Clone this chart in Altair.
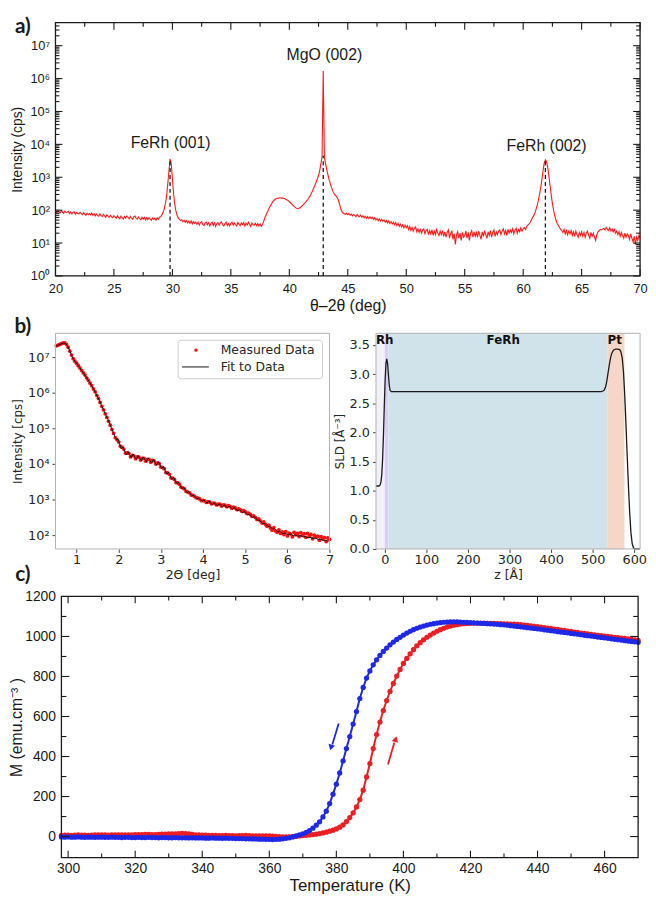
import altair as alt
import pandas as pd

FA = "Liberation Sans"
FB = "DejaVu Sans"
FL = "Lato"
INK = "#1a1a1a"
LBL = "#262626"
SUP = "['⁰','¹','²','³','⁴','⁵','⁶','⁷','⁸']"
POW_EXPR = "'10' + " + SUP + "[round(log(datum.value) / LN10)]"

# ---------------- Panel a : XRD theta-2theta scan ----------------
xrd_start = 20.0
xrd_step = 0.1
xrd_counts = [
    95, 84, 99, 88, 82, 96, 87, 80, 93, 85,
    86, 92, 79, 88, 77, 86, 90, 76, 85, 79,
    77, 86, 79, 73, 84, 76, 70, 81, 73, 79,
    72, 81, 69, 78, 67, 77, 69, 65, 76, 68,
    64, 74, 67, 61, 72, 65, 60, 70, 63, 59,
    68, 61, 57, 67, 60, 55, 66, 59, 54, 64,
    58, 67, 60, 55, 65, 57, 53, 63, 66, 56,
    54, 62, 55, 51, 61, 53, 60, 50, 59, 52,
    59, 53, 49, 58, 52, 57, 50, 59, 53, 61,
    64, 72, 85, 110, 160, 260, 600, 1500, 3600, 2600,
    900, 320, 150, 95, 70, 58, 52, 48, 51, 45,
    49, 43, 48, 41, 46, 40, 47, 38, 45, 40,
    44, 37, 43, 35, 42, 45, 36, 34, 41, 43,
    36, 42, 33, 40, 43, 34, 41, 32, 39, 42,
    35, 41, 44, 36, 33, 40, 43, 34, 39, 33,
    40, 43, 35, 41, 36, 33, 42, 37, 34, 41,
    36, 42, 33, 40, 35, 43, 37, 32, 41, 36,
    35, 40, 34, 39, 33, 38, 32, 36, 45, 58,
    70, 85, 100, 120, 140, 160, 185, 200, 215, 225,
    230, 235, 238, 232, 236, 230, 225, 215, 205, 195,
    180, 168, 155, 142, 130, 122, 115, 110, 112, 118,
    125, 135, 148, 160, 175, 195, 215, 245, 280, 330,
    400, 480, 580, 720, 900, 1150, 1600, 2600, 4200, 1700000,
    4000, 2600, 1700, 1200, 850, 650, 500, 400, 330, 290,
    270, 240, 200, 150, 110, 90, 82, 78, 75, 80,
    73, 79, 70, 76, 67, 74, 69, 64, 73, 66,
    63, 71, 61, 68, 59, 65, 57, 64, 56, 62,
    55, 61, 52, 59, 50, 56, 48, 54, 47, 53,
    46, 51, 43, 48, 41, 47, 39, 45, 38, 43,
    36, 42, 34, 40, 32, 38, 31, 36, 29, 35,
    29, 34, 26, 32, 24, 30, 23, 28, 31, 22,
    27, 21, 26, 20, 25, 27, 19, 24, 26, 18,
    24, 19, 25, 17, 23, 18, 26, 20, 17, 23,
    18, 24, 16, 22, 15, 21, 25, 14, 20, 23,
    13, 19, 9, 18, 22, 14, 20, 12, 21, 15,
    17, 23, 14, 21, 12, 20, 24, 15, 22, 16,
    21, 15, 23, 17, 13, 22, 16, 24, 18, 14,
    22, 17, 24, 15, 21, 25, 16, 22, 18, 23,
    25, 18, 23, 27, 19, 24, 17, 26, 20, 25,
    21, 27, 19, 25, 28, 20, 26, 22, 29, 23,
    27, 30, 26, 32, 35, 38, 42, 50, 60, 68,
    80, 105, 140, 200, 300, 480, 850, 1600, 2700, 3400,
    2900, 2000, 1100, 560, 290, 160, 100, 68, 50, 40,
    35, 30, 26, 24, 21, 26, 19, 24, 18, 23,
    19, 24, 17, 22, 16, 23, 18, 15, 21, 17,
    22, 16, 21, 15, 20, 23, 17, 14, 21, 16,
    20, 15, 12, 18, 22, 24, 26, 25, 27, 28,
    25, 30, 26, 24, 29, 23, 27, 22, 26, 20,
    23, 18, 22, 16, 21, 17, 14, 20, 15, 19,
    17, 13, 19, 14, 11, 16, 9, 15, 12, 17,
    14,
]
peak_pos = [29.8, 42.9, 61.9]
peak_base = [1, 1, 1]
peak_top = [3600, 4500, 3400]
peak_labels = ["FeRh (001)", "MgO (002)", "FeRh (002)"]
peak_label_x = [29.85, 43.0, 62.0]
peak_label_y = [1.1e4, 5.3e6, 9.0e3]
a_x_major = [20, 25, 30, 35, 40, 45, 50, 55, 60, 65, 70]
a_x_minor = [22.5, 27.5, 32.5, 37.5, 42.5, 47.5, 52.5, 57.5, 62.5, 67.5]
a_y_major = [1, 10, 100, 1e3, 1e4, 1e5, 1e6, 1e7]
a_y_minor = [m * 10 ** k for k in range(8) for m in range(2, 10) if m * 10 ** k < 5e7]

# ---------------- Panel b (left) : X-ray reflectivity ----------------
fit_start, fit_step = 0.50, 0.04
fit_log = [
    7.31, 7.33, 7.35, 7.37, 7.39, 7.40, 7.39, 7.33, 7.23, 7.12,
    7.01, 6.92, 6.86, 6.80, 6.73, 6.66, 6.60, 6.53, 6.46, 6.39,
    6.31, 6.24, 6.16, 6.07, 5.98, 5.88, 5.79, 5.68, 5.57, 5.47,
    5.36, 5.26, 5.15, 5.03, 4.92, 4.80, 4.70, 4.70, 4.56, 4.43,
    4.48, 4.37, 4.26, 4.35, 4.26, 4.18, 4.28, 4.20, 4.13, 4.24,
    4.16, 4.09, 4.20, 4.13, 4.06, 4.17, 4.10, 4.03, 4.13, 4.05,
    3.97, 4.06, 3.97, 3.87, 3.93, 3.82, 3.72, 3.77, 3.67, 3.57,
    3.62, 3.53, 3.45, 3.48, 3.40, 3.31, 3.34, 3.27, 3.20, 3.22,
    3.16, 3.11, 3.12, 3.07, 3.03, 3.04, 3.00, 2.96, 2.99, 2.94,
    2.90, 2.95, 2.91, 2.86, 2.91, 2.87, 2.83, 2.88, 2.84, 2.80,
    2.85, 2.81, 2.77, 2.82, 2.77, 2.73, 2.78, 2.73, 2.68, 2.72,
    2.68, 2.63, 2.66, 2.62, 2.57, 2.59, 2.54, 2.50, 2.52, 2.47,
    2.41, 2.42, 2.37, 2.32, 2.33, 2.29, 2.24, 2.25, 2.21, 2.16,
    2.18, 2.13, 2.09, 2.11, 2.07, 2.04, 2.06, 2.04, 2.01, 2.03,
    2.01, 1.98, 2.01, 1.99, 1.97, 1.99, 1.97, 1.95, 1.96, 1.94,
    1.93, 1.94, 1.92, 1.91, 1.92, 1.90, 1.88, 1.89, 1.87, 1.85,
    1.86, 1.84, 1.83,
]
meas_start, meas_step = 0.52, 0.04
meas_log = [
    7.32, 7.34, 7.36, 7.38, 7.40, 7.40, 7.36, 7.28, 7.17, 7.06,
    6.96, 6.89, 6.83, 6.76, 6.70, 6.63, 6.56, 6.50, 6.42, 6.35,
    6.27, 6.20, 6.11, 6.03, 5.93, 5.84, 5.73, 5.62, 5.52, 5.41,
    5.31, 5.20, 5.09, 4.97, 4.86, 4.74, 4.68, 4.62, 4.50, 4.47,
    4.42, 4.31, 4.31, 4.30, 4.20, 4.24, 4.23, 4.15, 4.20, 4.19,
    4.11, 4.16, 4.16, 4.08, 4.13, 4.13, 4.05, 4.10, 4.09, 4.00,
    4.03, 4.01, 3.91, 3.90, 3.87, 3.76, 3.75, 3.71, 3.61, 3.60,
    3.57, 3.48, 3.47, 3.43, 3.35, 3.33, 3.30, 3.23, 3.21, 3.19,
    3.13, 3.12, 3.09, 3.05, 3.04, 3.02, 2.97, 2.98, 2.96, 2.92,
    2.94, 2.93, 2.88, 2.90, 2.89, 2.85, 2.87, 2.87, 2.82, 2.85,
    2.84, 2.80, 2.83, 2.81, 2.76, 2.79, 2.77, 2.72, 2.74, 2.72,
    2.67, 2.69, 2.66, 2.61, 2.62, 2.58, 2.53, 2.54, 2.50, 2.44,
    2.46, 2.40, 2.34, 2.37, 2.30, 2.25, 2.28, 2.20, 2.14, 2.21,
    2.12, 2.08, 2.15, 2.05, 2.09, 2.02, 2.10, 1.98, 2.06, 2.03,
    1.95, 2.08, 2.01, 2.05, 1.96, 2.07, 2.00, 2.04, 1.94, 2.05,
    1.98, 2.02, 1.90, 2.00, 1.95, 1.97, 1.86, 1.96, 1.90, 1.93,
    1.82, 1.92, 1.88,
]
b1_x_ticks = [1, 2, 3, 4, 5, 6, 7]
b1_y_ticks = [1e2, 1e3, 1e4, 1e5, 1e6, 1e7]
legend_labels = ["Measured Data", "Fit to Data"]

# ---------------- Panel b (right) : SLD profile ----------------
sld_z = [-21, -14, -11, -9, -7, -5, -3, -1, 1, 3, 5, 7, 9, 11, 13, 16, 100, 300, 500,
         520, 525, 528, 531, 534, 537, 540, 543, 546, 550, 555, 560, 565, 568, 571,
         574, 577, 580, 583, 586, 589, 592, 595, 598, 601, 614]
sld_v = [1.08, 1.08, 1.10, 1.15, 1.28, 1.55, 1.95, 2.45, 2.90, 3.18, 3.26, 3.18, 2.98,
         2.80, 2.72, 2.70, 2.70, 2.70, 2.70,
         2.70, 2.71, 2.73, 2.78, 2.88, 3.02, 3.16, 3.28, 3.36, 3.41, 3.43, 3.43,
         3.42, 3.38, 3.28, 3.05, 2.65, 2.15, 1.60, 1.08, 0.62, 0.28, 0.09, 0.02, 0.0, 0.0]
band_start = [-21, 0, 9, 535, 577]
band_end = [0, 9, 535, 577, 614]
band_color = ["#f1f1f6", "#dccdf4", "#d1e3ea", "#f5d6c8", "#ffffff"]
layer_names = ["Rh", "FeRh", "Pt"]
layer_name_z = [0, 285, 553]
layer_name_y = [3.58, 3.58, 3.58]

# ---------------- Panel c : M(T) ----------------
T_start = 298
M_heating = [
    6, 7, 7, 6, 7, 8, 7, 7, 6, 7, 8, 8,
    8, 8, 7, 8, 8, 9, 9, 8, 9, 9, 10, 10,
    10, 11, 11, 10, 10, 11, 12, 12, 13, 13, 14, 15,
    16, 15, 13, 11, 9, 8, 7, 7, 6, 6, 6, 5,
    5, 6, 5, 5, 4, 5, 5, 6, 5, 4, 4, 4,
    3, 3, 3, 2, 1, 0, -1, -1, -1, 0, 1, 3,
    5, 6, 8, 10, 12, 15, 18, 22, 27, 32,
    38, 47, 58, 75, 95, 118, 148, 185, 232, 298,
    365, 440, 510, 572, 630, 680, 725, 765, 802, 835,
    865, 890, 913, 934, 953, 969, 983, 996, 1007, 1017,
    1026, 1034, 1041, 1047, 1052, 1056, 1059, 1062, 1064, 1065,
    1066,
    1066, 1067, 1067, 1066, 1066, 1065, 1065, 1064, 1064, 1063,
    1063, 1062, 1062, 1061, 1059, 1057, 1055, 1053, 1051, 1049,
    1047, 1044, 1042, 1040, 1037, 1035, 1032, 1030, 1027, 1025,
    1022, 1020, 1017, 1015, 1013, 1010, 1008, 1006, 1004, 1002,
    1000, 998, 996, 994, 992, 990, 988, 985, 983, 980,
]
M_cooling = [
    -2, -3, -2, -3, -3, -2, -3, -4, -3, -3, -4, -3,
    -3, -4, -4, -3, -4, -4, -5, -4, -4, -5, -5, -4,
    -5, -5, -4, -5, -5, -6, -5, -5, -6, -6, -5, -6,
    -6, -6, -7, -6, -7, -7, -7, -8, -8, -7, -8, -8,
    -9, -8, -9, -9, -10, -10, -10, -11, -11, -12, -12, -13,
    -13, -14, -14, -15, -14, -13, -11, -9, -6, -2, 3, 8,
    14, 21, 30, 42, 57, 74, 98, 127, 165, 212,
    262, 318, 378, 440, 500, 562, 625, 690, 745, 792,
    828, 858, 883, 905, 925, 942, 958, 972, 985, 996,
    1007, 1017, 1026, 1034, 1041, 1047, 1052, 1057, 1061, 1064,
    1067, 1069, 1071, 1072, 1073, 1073, 1073, 1072, 1071, 1070,
    1069,
    1068, 1067, 1066, 1065, 1064, 1063, 1062, 1061, 1059, 1058,
    1056, 1054, 1052, 1050, 1048, 1046, 1044, 1042, 1040, 1038,
    1036, 1033, 1031, 1029, 1027, 1024, 1022, 1020, 1018, 1015,
    1013, 1011, 1009, 1006, 1004, 1002, 1000, 997, 995, 993,
    991, 988, 986, 984, 982, 979, 977, 975, 973, 971,
]
arrow_color = ["#1e28e6", "#eb1e23"]
arrow_T0 = [380.7, 395.4]
arrow_M0 = [565, 360]
arrow_T1 = [378.8, 397.3]
arrow_M1 = [460, 470]
arrow_headT = [378.4, 397.7]
arrow_headM = [445, 487]
arrow_shape = ["triangle-down", "triangle-up"]
c_x_major = [300, 320, 340, 360, 380, 400, 420, 440, 460]
c_x_minor = [310, 330, 350, 370, 390, 410, 430, 450]
c_y_labels = [0, 200, 400, 600, 800, 1000, 1200]
c_y_major = [0, 200, 400, 600, 800, 1000]
c_y_minor = [100, 300, 500, 700, 900, 1100]

one = pd.DataFrame({"k": [0]})


def inward_ticks(vals, ch, scale, length, x0, x1, H, color=INK, sw=1.1):
    df = pd.DataFrame({"v": vals})
    base = alt.Chart(df).mark_rule(color=color, strokeWidth=sw)
    if ch == "x":
        enc = alt.X("v:Q", scale=scale, axis=None)
        return [base.encode(x=enc, y=alt.value(H), y2=alt.value(H - length)),
                base.encode(x=enc, y=alt.value(0), y2=alt.value(length))]
    enc = alt.Y("v:Q", scale=scale, axis=None)
    return [base.encode(y=enc, x=alt.value(x0), x2=alt.value(x0 + length)),
            base.encode(y=enc, x=alt.value(x1), x2=alt.value(x1 - length))]


def panel_label(txt, x, y):
    return alt.Chart(pd.DataFrame({"t": [txt]})).mark_text(
        font=FL, fontSize=21, fontWeight="bold", color=INK, align="center", baseline="middle"
    ).encode(x=alt.value(x), y=alt.value(y), text="t:N")


def frame(x0, x1, y0, y1, color, sw):
    return alt.Chart(one).mark_rect(fill="transparent", stroke=color, strokeWidth=sw).encode(
        x=alt.value(x0), x2=alt.value(x1), y=alt.value(y0), y2=alt.value(y1))


NOVIEW = alt.ViewBackground(stroke="transparent", fill="white")

# ======== Panel a ========
WA, HA = 591, 256
xa = alt.Scale(domain=[20, 70], nice=False, zero=False)
ya = alt.Scale(type="log", domain=[1, 5e7], nice=False)
df_a = pd.DataFrame({"x": [round(xrd_start + xrd_step * i, 2) for i in range(len(xrd_counts))],
                     "y": xrd_counts})
a_line = alt.Chart(df_a).mark_line(color="#ff1a1a", strokeWidth=1.1).encode(
    x=alt.X("x:Q", scale=xa, axis=alt.Axis(
        orient="bottom", values=a_x_major, ticks=False, domain=False, grid=False, labelFlush=False,
        labelFont=FA, labelFontSize=13, labelColor=INK, labelPadding=7,
        title="θ–2θ (deg)", titleFont=FA, titleFontSize=16, titleFontWeight="normal",
        titleColor=INK, titlePadding=2)),
    y=alt.Y("y:Q", scale=ya, axis=alt.Axis(
        orient="left", values=a_y_major, labelExpr=POW_EXPR, ticks=False, domain=False, grid=False,
        labelOverlap=False, labelFlush=False,
        labelFont=FA, labelFontSize=13, labelColor=INK, labelPadding=6,
        title="Intensity (cps)", titleFont=FA, titleFontSize=14, titleFontWeight="normal",
        titleColor=INK, titlePadding=5)),
)
df_peaks = pd.DataFrame({"x": peak_pos, "b": peak_base, "t": peak_top})
a_dash = alt.Chart(df_peaks).mark_rule(color=INK, strokeWidth=1.3, strokeDash=[4, 3]).encode(
    x=alt.X("x:Q", scale=xa, axis=None), y=alt.Y("b:Q", scale=ya, axis=None), y2="t:Q")
df_plab = pd.DataFrame({"x": peak_label_x, "y": peak_label_y, "t": peak_labels})
a_text = alt.Chart(df_plab).mark_text(font=FA, fontSize=16, color=INK, baseline="middle").encode(
    x=alt.X("x:Q", scale=xa, axis=None), y=alt.Y("y:Q", scale=ya, axis=None), text="t:N")
a_ticks = (inward_ticks(a_x_major, "x", xa, 7, 0, WA, HA) + inward_ticks(a_x_minor, "x", xa, 4, 0, WA, HA)
           + inward_ticks(a_y_major, "y", ya, 7, 0, WA, HA) + inward_ticks(a_y_minor, "y", ya, 4, 0, WA, HA))
panel_a = alt.layer(a_line, a_dash, a_text, *a_ticks, frame(0, WA, 0, HA, INK, 1.3),
                    panel_label("a)", -33, 4)).properties(
    width=WA, height=HA, view=NOVIEW).resolve_scale(x="independent", y="independent")

# ======== Panel b (both sub-panels in one layered view) ========
WB, HBT, TOPB = 591, 228, 10
B1R, B2L = 277, 324
xb = alt.Scale(domain=[0.5, 7.0], range=[0, B1R], nice=False, zero=False)
yb = alt.Scale(type="log", domain=[41, 4.7e7], range=[HBT, TOPB], nice=False)
xs = alt.Scale(domain=[-21, 614], range=[B2L, WB], nice=False, zero=False)
ys = alt.Scale(domain=[0, 3.7], range=[HBT, TOPB], nice=False, zero=False)

df_fit = pd.DataFrame({"x": [round(fit_start + fit_step * i, 3) for i in range(len(fit_log))],
                       "y": [10 ** v for v in fit_log]})
df_meas = pd.DataFrame({"x": [round(meas_start + meas_step * i, 3) for i in range(len(meas_log))],
                        "y": [10 ** v for v in meas_log]})


def b_axis(orient, values, title, fmt=None, expr=None, offset=0, tsize=12.5, lpad=1.5, tpad=2):
    kw = dict(orient=orient, values=values, ticks=True, tickSize=3.5, tickColor="#444",
              domain=False, grid=False, labelFlush=False, labelOverlap=False,
              labelFont=FB, labelFontSize=13, labelColor=LBL, labelPadding=lpad,
              title=title, titleFont=FB, titleFontSize=tsize, titleFontWeight="normal",
              titleColor=LBL, titlePadding=tpad, offset=offset)
    if fmt:
        kw["format"] = fmt
    if expr:
        kw["labelExpr"] = expr
    return alt.Axis(**kw)


b1_pts = alt.Chart(df_meas).mark_circle(color="#ff1010", size=15, opacity=1).encode(
    x=alt.X("x:Q", scale=xb, axis=b_axis("bottom", b1_x_ticks, "2Θ [deg]", fmt="d")),
    y=alt.Y("y:Q", scale=yb, axis=b_axis("left", b1_y_ticks, "Intensity [cps]", expr=POW_EXPR,
                                         tsize=12, lpad=3, tpad=3.5)))
b1_fit = alt.Chart(df_fit).mark_line(color="#111111", strokeWidth=1).encode(
    x=alt.X("x:Q", scale=xb, axis=None), y=alt.Y("y:Q", scale=yb, axis=None))
leg_box = alt.Chart(one).mark_rect(fill="white", stroke="#cccccc", strokeWidth=1, cornerRadius=3).encode(
    x=alt.value(124), x2=alt.value(270), y=alt.value(TOPB + 7), y2=alt.value(TOPB + 46))
leg_pt = alt.Chart(one).mark_circle(color="#ff1010", size=12, opacity=1).encode(
    x=alt.value(142), y=alt.value(TOPB + 17))
leg_ln = alt.Chart(one).mark_rule(color="#111111", strokeWidth=1).encode(
    x=alt.value(128), x2=alt.value(155), y=alt.value(TOPB + 34))
leg_txt = [alt.Chart(pd.DataFrame({"t": [lab]})).mark_text(
    font=FB, fontSize=12.5, color=LBL, align="left", baseline="middle").encode(
    x=alt.value(167), y=alt.value(TOPB + yy), text="t:N")
    for lab, yy in zip(legend_labels, [17, 34])]

df_band = pd.DataFrame({"a": band_start, "b": band_end, "c": band_color})
b2_band = alt.Chart(df_band).mark_rect().encode(
    x=alt.X("a:Q", scale=xs, axis=b_axis("bottom", [0, 100, 200, 300, 400, 500, 600], "z [Å]", fmt="d")),
    x2="b:Q", y=alt.value(TOPB), y2=alt.value(HBT),
    color=alt.Color("c:N", scale=None))
df_sld = pd.DataFrame({"z": sld_z, "s": sld_v})
b2_line = alt.Chart(df_sld).mark_line(color="#1a1a1a", strokeWidth=1.3).encode(
    x=alt.X("z:Q", scale=xs, axis=None),
    y=alt.Y("s:Q", scale=ys, axis=b_axis("left", [0, 0.5, 1.0, 1.5, 2.0, 2.5, 3.0, 3.5], "SLD [Å⁻³]",
                                         fmt=".1f", offset=-B2L, tsize=12, lpad=3, tpad=3)))
df_ln = pd.DataFrame({"z": layer_name_z, "y": layer_name_y, "t": layer_names})
b2_text = alt.Chart(df_ln).mark_text(font=FB, fontSize=12, fontWeight="bold", color="#111",
                                     baseline="middle").encode(
    x=alt.X("z:Q", scale=xs, axis=None), y=alt.Y("y:Q", scale=ys, axis=None), text="t:N")

panel_b = alt.layer(
    b1_pts, b1_fit, leg_box, leg_pt, leg_ln, *leg_txt,
    b2_band, b2_line, b2_text,
    frame(0, B1R, TOPB, HBT, "#b0b0b0", 1), frame(B2L, WB, TOPB, HBT, "#b0b0b0", 1),
    panel_label("b)", -33, TOPB - 6),
).properties(width=WB, height=HBT, view=NOVIEW).resolve_scale(x="independent", y="independent")

# ======== Panel c ========
WC, HC, C0 = 589, 264, 6
xc = alt.Scale(domain=[298, 470], range=[C0, WC], nice=False, zero=False)
yc = alt.Scale(domain=[-105, 1200], nice=False, zero=False)
df_h = pd.DataFrame({"T": [T_start + i for i in range(len(M_heating))], "M": M_heating})
df_c = pd.DataFrame({"T": [T_start + i for i in range(len(M_cooling))], "M": M_cooling})
RED, BLUE = "#eb1e23", "#1e28e6"
c_red_line = alt.Chart(df_h).mark_line(color=RED, strokeWidth=2).encode(
    x=alt.X("T:Q", scale=xc, axis=alt.Axis(
        orient="bottom", values=c_x_major, format="d", ticks=False, domain=False, grid=False,
        labelFlush=False, labelFont=FA, labelFontSize=14, labelColor=INK, labelPadding=4,
        title="Temperature (K)", titleFont=FA, titleFontSize=17, titleFontWeight="normal",
        titleColor=INK, titlePadding=2)),
    y=alt.Y("M:Q", scale=yc, axis=alt.Axis(
        orient="left", offset=-C0, values=c_y_labels, format="d", ticks=False, domain=False,
        grid=False, labelFlush=False, labelOverlap=False, labelFont=FA, labelFontSize=14,
        labelColor=INK, labelPadding=6, title="M (emu.cm⁻³ )", titleFont=FA, titleFontSize=16,
        titleFontWeight="normal", titleColor=INK, titlePadding=0)))
c_red_pts = alt.Chart(df_h).mark_circle(color=RED, size=28, opacity=1).encode(
    x=alt.X("T:Q", scale=xc, axis=None), y=alt.Y("M:Q", scale=yc, axis=None))
c_blue_line = alt.Chart(df_c).mark_line(color=BLUE, strokeWidth=2).encode(
    x=alt.X("T:Q", scale=xc, axis=None), y=alt.Y("M:Q", scale=yc, axis=None))
c_blue_pts = alt.Chart(df_c).mark_circle(color=BLUE, size=28, opacity=1).encode(
    x=alt.X("T:Q", scale=xc, axis=None), y=alt.Y("M:Q", scale=yc, axis=None))
df_arr = pd.DataFrame({"t0": arrow_T0, "m0": arrow_M0, "t1": arrow_T1, "m1": arrow_M1,
                       "th": arrow_headT, "mh": arrow_headM, "col": arrow_color,
                       "shp": arrow_shape})
c_arr = alt.Chart(df_arr).mark_rule(strokeWidth=1.8).encode(
    x=alt.X("t0:Q", scale=xc, axis=None), x2="t1:Q",
    y=alt.Y("m0:Q", scale=yc, axis=None), y2="m1:Q",
    color=alt.Color("col:N", scale=None))
c_head = alt.Chart(df_arr).mark_point(filled=True, size=45, angle=16, opacity=1).encode(
    x=alt.X("th:Q", scale=xc, axis=None), y=alt.Y("mh:Q", scale=yc, axis=None),
    color=alt.Color("col:N", scale=None), shape=alt.Shape("shp:N", scale=None))
c_ticks = (inward_ticks(c_x_major, "x", xc, 7, C0, WC, HC) + inward_ticks(c_x_minor, "x", xc, 4, C0, WC, HC)
           + inward_ticks(c_y_major, "y", yc, 8, C0, WC, HC) + inward_ticks(c_y_minor, "y", yc, 5, C0, WC, HC))
panel_c = alt.layer(c_red_line, c_red_pts, c_blue_line, c_blue_pts, c_arr, c_head, *c_ticks,
                    frame(C0, WC, 0, HC, INK, 1.3), panel_label("c)", C0 - 39, -22)).properties(
    width=WC, height=HC, view=NOVIEW).resolve_scale(x="independent", y="independent")

chart = alt.vconcat(panel_a, panel_b, panel_c, spacing=48, bounds="flush").properties(
    padding={"left": 0, "top": 2, "right": 0, "bottom": 0},
    background="white")

chart.save("out.html", embed_options={"renderer": "svg", "actions": False})
